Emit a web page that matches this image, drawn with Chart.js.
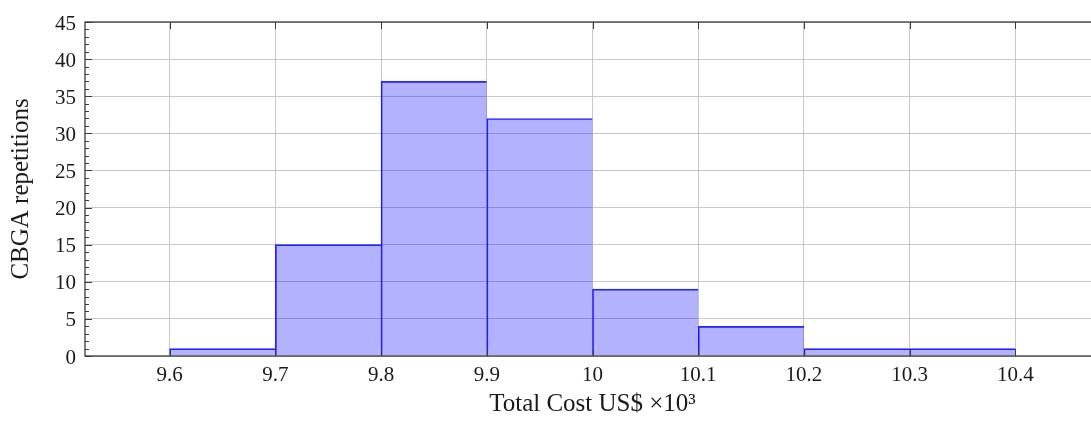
<!DOCTYPE html>
<html><head><meta charset="utf-8">
<script src="https://cdn.jsdelivr.net/npm/chart.js@4"></script>
<style>
html,body{margin:0;padding:0;overflow:hidden;background:#fff}
#wrap{width:1110px;height:423px;position:relative}
</style>
</head><body>
<div id="wrap"><canvas id="c" width="1110" height="423"></canvas></div>
<script>
// ---- data ----
const binEdges = [9.6, 9.7, 9.8, 9.9, 10.0, 10.1, 10.2, 10.3, 10.4];
const counts = [1, 15, 37, 32, 9, 4, 1, 1];
const xTickValues = [9.6, 9.7, 9.8, 9.9, 10.0, 10.1, 10.2, 10.3, 10.4];
const xTickLabels = ["9.6", "9.7", "9.8", "9.9", "10", "10.1", "10.2", "10.3", "10.4"];
const yTickValues = [0, 5, 10, 15, 20, 25, 30, 35, 40, 45];
const xRange = [9.52, 10.48];
const yRange = [0, 45];
const yMinorStep = 1;
const xTitle = "Total Cost US$ \u00d710\u00b3";
const yTitle = "CBGA repetitions";

const barData = counts.map((c, i) => ({ x: (binEdges[i] + binEdges[i + 1]) / 2, y: c }));

const FONT = "'Liberation Serif', 'Times New Roman', serif";
const AXIS_COLOR = '#3a3a3a';

const frameTicks = {
  id: 'frameTicks',
  afterDraw(chart) {
    const { ctx, chartArea: a, scales: { x, y } } = chart;
    ctx.save();
    ctx.strokeStyle = AXIS_COLOR;
    ctx.lineWidth = 1;
    ctx.beginPath();
    for (let v = yRange[0]; v <= yRange[1] + 1e-9; v += yMinorStep) {
      const p = Math.round(y.getPixelForValue(v)) + 0.5;
      const major = yTickValues.includes(v);
      ctx.moveTo(a.left, p);
      ctx.lineTo(a.left + (major ? 7 : 4), p);
    }
    xTickValues.forEach(v => {
      const p = Math.round(x.getPixelForValue(v)) + 0.5;
      ctx.moveTo(p, a.top); ctx.lineTo(p, a.top + 7);
      ctx.moveTo(p, a.bottom); ctx.lineTo(p, a.bottom - 7);
    });
    ctx.stroke();
    ctx.lineWidth = 1.3;
    ctx.strokeRect(a.left, a.top, a.right - a.left, a.bottom - a.top);
    ctx.restore();
  }
};

new Chart(document.getElementById('c'), {
  type: 'bar',
  data: {
    datasets: [{
      data: barData,
      backgroundColor: 'rgba(0,0,255,0.3)',
      borderColor: 'rgba(0,0,255,0.85)',
      borderWidth: { top: 1, left: 1, right: 0, bottom: 0 },
      borderSkipped: 'bottom',
      barPercentage: 1,
      categoryPercentage: 1
    }]
  },
  options: {
    responsive: false,
    animation: false,
    layout: { padding: { top: 22, right: 10, left: 0, bottom: 0 } },
    plugins: { legend: { display: false }, tooltip: { enabled: false } },
    scales: {
      x: {
        type: 'linear',
        min: xRange[0], max: xRange[1],
        offset: false,
        z: 1,
        afterFit: s => { s.height = 67; },
        afterBuildTicks: s => { s.ticks = xTickValues.map(v => ({ value: v })); },
        ticks: {
          autoSkip: false, maxRotation: 0,
          padding: 7,
          color: '#1a1a1a',
          font: { family: FONT, size: 21 },
          callback: (v) => { const i = xTickValues.findIndex(t => Math.abs(t - v) < 1e-9); return i >= 0 ? xTickLabels[i] : ''; }
        },
        grid: { color: 'rgb(200,200,200)', lineWidth: 1, drawTicks: false, offset: false },
        border: { display: false },
        title: { display: true, text: xTitle, color: '#1a1a1a', font: { family: FONT, size: 25 }, padding: { top: 0, bottom: 4 } }
      },
      y: {
        min: yRange[0], max: yRange[1],
        z: 1,
        afterFit: s => { s.width = 85; },
        afterBuildTicks: s => { s.ticks = yTickValues.map(v => ({ value: v })); },
        ticks: {
          padding: 9,
          labelOffset: 2,
          color: '#1a1a1a',
          font: { family: FONT, size: 21 }
        },
        grid: { color: 'rgb(200,200,200)', lineWidth: 1, drawTicks: false },
        border: { display: false },
        title: { display: true, text: yTitle, color: '#1a1a1a', font: { family: FONT, size: 25 }, padding: { top: 6, bottom: 0 } }
      }
    }
  },
  plugins: [frameTicks]
});
</script>
</body></html>
